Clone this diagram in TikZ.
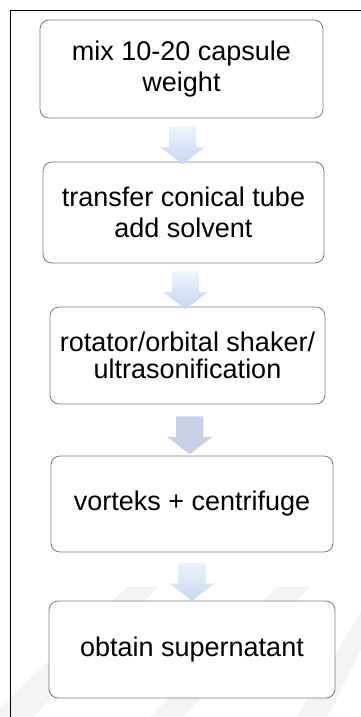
\documentclass[tikz,border=0pt]{standalone}
\usepackage{fontspec}
\setmainfont{Liberation Sans}
\usetikzlibrary{shapes.arrows}

\definecolor{boxline}{RGB}{125,125,125}
\definecolor{arrtop}{RGB}{238,243,252}
\definecolor{arrbot}{RGB}{198,214,244}
\definecolor{arrgray}{RGB}{200,208,232}
\definecolor{wmark}{RGB}{243,243,243}

\tikzset{
  stepbox/.style={draw=boxline, line width=0.8pt, rounded corners=9pt, fill=white,
    align=center, inner sep=0pt, font=\fontsize{27pt}{31pt}\selectfont},
  downarr/.style={single arrow, shape border rotate=270, draw=none,
    top color=arrtop, bottom color=arrbot, inner sep=13.5pt,
    single arrow head extend=9pt, single arrow tip angle=105, minimum height=32pt},
}

\begin{document}
\begin{tikzpicture}[x=1pt,y=-1pt]
                \useasboundingbox (0,0) rectangle (361,717);
                % faint background stripes
                \fill[wmark] (127,587) -- (158,587) -- (33,717) -- (0,717) -- (0,707) -- cycle;
                \fill[wmark] (277,587) -- (310,587) -- (183,717) -- (150,717) -- cycle;
                \fill[wmark] (361,612) -- (361,650) -- (327,717) -- (296,717) -- cycle;

                \draw[line width=0.8pt] (10,717) -- (10,10) -- (361,10);

                \node[stepbox, minimum width=283, minimum height=98] (mix) at (181.5,69) {mix 10-20 capsule\\weight};
                \node[stepbox, minimum width=281, minimum height=101] (transfer) at (183.5,212.5) {transfer conical tube\\add solvent};
                \node[stepbox, minimum width=275, minimum height=97,
                      font=\fontsize{27pt}{27pt}\selectfont] (shaker) at (187.5,355.5) {rotator/orbital shaker/\\ultrasonification};
                \node[stepbox, minimum width=282, minimum height=96] (vorteks) at (192,504) {vorteks + centrifuge};
                \node[stepbox, minimum width=286, minimum height=97] (obtain) at (192,649.5) {obtain supernatant};

                \path (mix.south) -- node[downarr] {} (transfer.north);
                \path (transfer.south) -- node[downarr] {} (shaker.north);
                \path (shaker.south) -- node[downarr, top color=arrgray, bottom color=arrgray, minimum height=38pt] {} (vorteks.north);
                \path (vorteks.south) -- node[downarr, minimum height=36pt] {} (obtain.north);

            \end{tikzpicture}
\end{document}
